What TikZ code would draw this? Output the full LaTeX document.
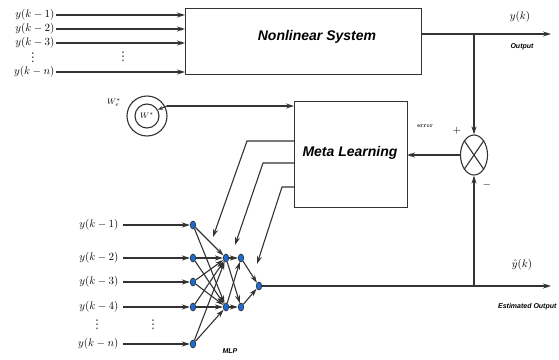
\documentclass[tikz,border=0pt]{standalone}
\usepackage{fontspec}
\newfontfamily\lab{Liberation Sans}
\newfontfamily\dv{DejaVu Sans}
\usetikzlibrary{arrows.meta,shapes.geometric}
\definecolor{ln}{HTML}{333333}
\definecolor{nb}{HTML}{1E6AD0}
\begin{document}
\begin{tikzpicture}[x=1pt,y=-1pt,
  line width=1.1pt,
  arr/.style={ln,-{Stealth[length=8pt,width=5pt]}},
  ln/.style={draw=ln},
  neu/.style={ellipse,draw=ln!80!black,fill=nb,line width=0.6pt,minimum width=5.5pt,minimum height=8pt,inner sep=0pt},
  mlab/.style={font=\fontsize{10.5}{11}\selectfont,inner sep=1pt},
  dots/.style={font=\dv\fontsize{12}{12}\selectfont,inner sep=0pt,text=ln},
  title/.style={font=\lab\bfseries\itshape\fontsize{14}{15}\selectfont},
  small/.style={font=\lab\bfseries\itshape\fontsize{7}{7}\selectfont,inner sep=0pt},
  blk/.style={draw=ln,line width=1.2pt}]
\useasboundingbox (0,0) rectangle (559,359);
% Nonlinear system
\node[blk,minimum width=236pt,minimum height=66pt,inner sep=0pt,anchor=north west] (ns) at (185,8) {};
\node[title] (nst) at (317,37) {Nonlinear System};
% inputs top
\foreach \i/\yy/\t in {1/15/{y(k-1)},2/29/{y(k-2)},3/43/{y(k-3)},4/72/{y(k-n)}}{
  \node[mlab,anchor=east] (a\i) at (56,\yy) {$\t$};
  \coordinate (ae\i) at (185,\yy);
  \draw[arr] (a\i.east) -- (ae\i);
}
\node[dots] (ad1) at (33,58) {⋮};
\node[dots] (ad2) at (123,57) {⋮};
% output
\coordinate (o1) at (421,34);
\coordinate (o2) at (551,34);
\coordinate (br1) at (474,34);
\draw[arr] (o1) -- (o2);
\node[mlab] (yk) at (520,17) {$y(k)$};
\node[small] (outl) at (522,47) {Output};
% summing junction
\node[ellipse,draw=ln,line width=1.1pt,minimum width=27pt,minimum height=40pt,inner sep=0pt] (sum) at (474,155) {};
\draw[ln] (sum.north west) -- (sum.south east) (sum.north east) -- (sum.south west);
\draw[arr] (br1) -- (sum.north);
\node[mlab] (plus) at (457,131) {$+$};
\node[mlab] (minus) at (487,185) {$-$};
\node[font=\fontsize{6}{6}\selectfont\ttfamily] (err) at (425,126) {error};
% Meta learning
\node[blk,minimum width=113pt,minimum height=106pt,inner sep=0pt,anchor=north west] (ml) at (294,101) {};
\node[title] (mlt) at (350,153) {Meta Learning};
\coordinate (mle) at (407,155);
\draw[arr] (sum.west) -- (mle);
% W circles
\node[circle,draw=ln,line width=1.1pt,minimum size=40pt,inner sep=0pt] (wo) at (147,116) {};
\node[circle,draw=ln,line width=1.1pt,minimum size=24pt,inner sep=0pt,font=\fontsize{8}{8}\selectfont] (wi) at (147,116) {$W^*$};
\node[font=\fontsize{8.5}{9}\selectfont] (we) at (114,103) {$W_e^*$};
\coordinate (wl) at (167,106);
\coordinate (mlw) at (294,106);
\draw[arr] (wl) -- (mlw);
\draw[ln,-{Stealth[length=5pt,width=3.5pt]}] (wl) -- (wi.30);
% MLP nodes
\foreach \i/\yy in {1/225,2/258,3/282,4/307,5/344}{
  \node[neu] (i\i) at (193,\yy) {};
}
\node[neu] (h1) at (226,258) {};
\node[neu] (h2) at (226,307) {};
\node[neu] (g1) at (241,258) {};
\node[neu] (g2) at (241,307) {};
\node[neu] (out) at (259,286) {};
\foreach \i/\yy/\t in {1/225/{y(k-1)},2/258/{y(k-2)},3/282/{y(k-3)},4/307/{y(k-4)},5/344/{y(k-n)}}{
  \node[mlab,anchor=east] (b\i) at (120,\yy) {$\t$};
  \draw[arr] (b\i.east) ++(3,0) coordinate (bs\i) -- (i\i.west);
}
\node[dots] (bd1) at (97,325) {⋮};
\node[dots] (bd2) at (153,325) {⋮};
\foreach \i in {1,...,5}{
  \draw[arr] (i\i) -- (h1);
  \draw[arr] (i\i) -- (h2);
}
\draw[arr] (h1) -- (g1);
\draw[arr] (h2) -- (g2);
\draw[arr] (h1) -- (g2);
\draw[arr] (h2) -- (g1);
\draw[arr] (g1) -- (out);
\draw[arr] (g2) -- (out);
\node[small] (mlp) at (230,351) {MLP};
% meta learning to MLP
\coordinate (m1) at (294,141);
\coordinate (m2) at (294,163);
\coordinate (m3) at (294,187);
\coordinate (t1) at (213,237);
\coordinate (t2) at (235,245);
\coordinate (t3) at (257,264);
\draw[arr] (m1) -- (247,141) -- (t1);
\draw[arr] (m2) -- (263,163) -- (t2);
\draw[arr] (m3) -- (282,187) -- (t3);
% estimated output
\coordinate (eo) at (551,286);
\coordinate (br2) at (474,286);
\draw[arr] (out.east) -- (eo);
\draw[arr] (br2) -- (sum.south);
\node[mlab] (yh) at (522,265) {$\hat y(k)$};
\node[small,anchor=east] (eol) at (557,307) {Estimated Output};
\end{tikzpicture}
\end{document}
